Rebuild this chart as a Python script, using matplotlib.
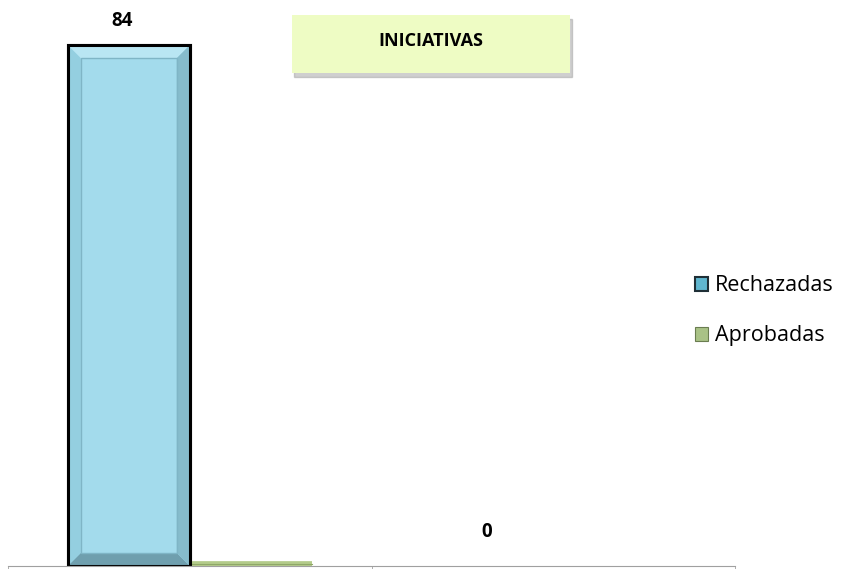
import numpy as np
import matplotlib.pyplot as plt
from matplotlib.patches import Rectangle, Polygon

categories = ['', '']
rechazadas = [84, 0]
aprobadas = [0, np.nan]
rech_labels = ['84', '0']
series_names = ['Rechazadas', 'Aprobadas']
title = 'INICIATIVAS'

plt.rcParams['font.family'] = ['Open Sans', 'DejaVu Sans']

fig = plt.figure(figsize=(8.49, 5.69), dpi=100)
W, H = 849, 569
ax = fig.add_axes([8 / W, 3 / H, (735 - 8) / W, 558 / H])

x = np.arange(len(categories))
w = 122 / 363.5  # bar width in category units
px_x = 1 / 363.5  # one pixel in x data units
px_y = 90 / 558   # one pixel in y data units

blue = '#a3dbec'
green = '#c4dc9c'

b1 = ax.bar(x - w / 2, rechazadas, w, color=blue, edgecolor='black', linewidth=2.2, zorder=3)
b2 = ax.bar(x + w / 2, np.nan_to_num(aprobadas), w, color=green, edgecolor='#b3cb8a',
            linewidth=7, zorder=3)
b1[1].set_visible(False)
b2[1].set_visible(False)

# bevel look on the blue bar
rect = b1[0]
x0, bw, h = rect.get_x(), rect.get_width(), rect.get_height()
ix, iy = 13 * px_x, 13 * px_y
x1 = x0 + bw
ax.add_patch(Polygon([(x0, h), (x1, h), (x1 - ix, h - iy), (x0 + ix, h - iy)],
                     color='#b9e6f3', lw=0, zorder=3.5))
ax.add_patch(Polygon([(x0, 0), (x1, 0), (x1 - ix, iy), (x0 + ix, iy)],
                     color='#6f9fae', lw=0, zorder=3.5))
ax.add_patch(Polygon([(x1, 0), (x1, h), (x1 - ix, h - iy), (x1 - ix, iy)],
                     color='#86bccc', lw=0, zorder=3.5))
ax.add_patch(Polygon([(x0, 0), (x0, h), (x0 + ix, h - iy), (x0 + ix, iy)],
                     color='#94cfe0', lw=0, zorder=3.5))
ax.add_patch(Rectangle((x0 + ix, iy), bw - 2 * ix, h - 2 * iy, fill=False,
                       edgecolor='#7fb5c6', linewidth=1, zorder=3.6))
ax.add_patch(Rectangle((x0, 0), bw, h, fill=False, edgecolor='black', linewidth=2.2, zorder=3.7))
ax.plot([x1, x1 + w], [0.3 * px_y * 6, 0.3 * px_y * 6], color='#8fa868', lw=0.8, zorder=3.1)

# value labels
for xi, v, lab in zip(x, rechazadas, rech_labels):
    if v:
        ax.text(xi - w / 2 - 7 * px_x, v + 2.3, lab, ha='center', va='bottom',
                fontsize=13.5, fontweight='bold')
    else:
        ax.text(xi - w / 2 - 6 * px_x, 3.8, lab, ha='center', va='bottom',
                fontsize=13.5, fontweight='bold')

ax.set_xlim(-0.5, 1.5)
ax.set_ylim(0, 90)
ax.set_yticks([])
ax.set_xticks([])
ax.set_xticks([-0.5, 0.5, 1.5], minor=True)
ax.tick_params(axis='x', which='minor', length=5, color='#a0a0a0', direction='out')
for s in ['top', 'right', 'left']:
    ax.spines[s].set_visible(False)
ax.spines['bottom'].set_color('#a0a0a0')
ax.spines['bottom'].set_zorder(5)

# title box with shadow
bx, by, bw_, bh_ = 292 / W, (569 - 73) / H, 278 / W, 58 / H
fig.patches.append(Rectangle((bx + 2 / W, by - 4 / H), bw_, bh_, transform=fig.transFigure,
                             color='#a0a0a0', alpha=0.5, zorder=1))
fig.patches.append(Rectangle((bx, by), bw_, bh_, transform=fig.transFigure,
                             facecolor='#eefcc4', edgecolor='none', zorder=2))
fig.text(bx + bw_ / 2, by + bh_ / 2 + 3 / H, title, ha='center', va='center',
         fontsize=13, fontweight='bold', zorder=3)

# legend
handles = [Rectangle((0, 0), 1, 1, facecolor='#5fb6cf', edgecolor='#1f2f36', linewidth=1.5),
           Rectangle((0, 0), 1, 1, facecolor='#a9c286', edgecolor='#6a7d50', linewidth=0.8)]
fig.legend(handles, series_names, loc='upper left', bbox_to_anchor=(676 / W, 1 - 256 / H),
           frameon=False, fontsize=15.5, handlelength=0.6, handleheight=0.6,
           handletextpad=0.3, labelspacing=1.35)

fig.savefig('out.png', dpi=100)
